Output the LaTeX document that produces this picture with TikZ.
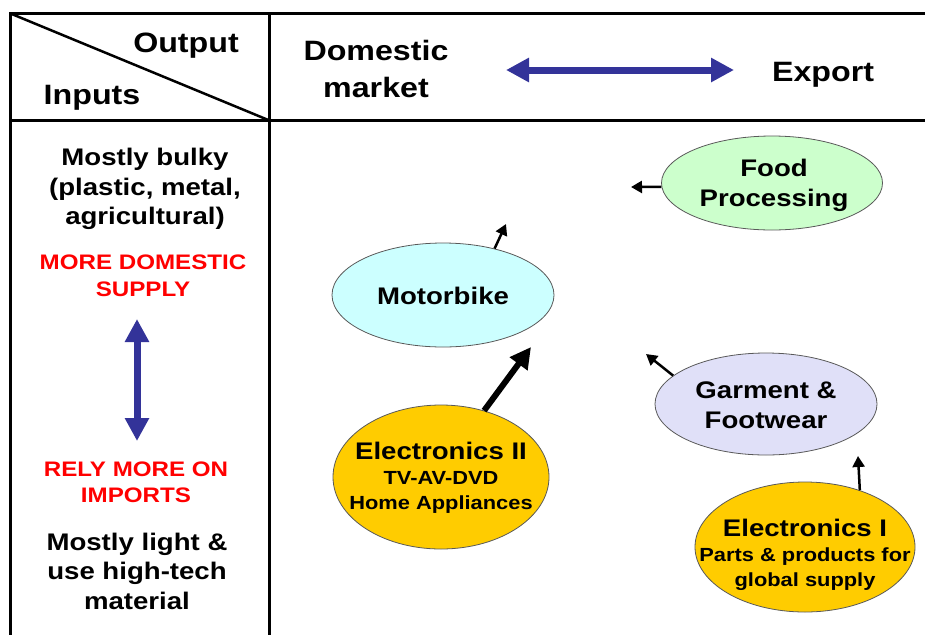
\documentclass[tikz,border=0pt]{standalone}
\usepackage{fontspec}
\setmainfont[FakeStretch=1.15]{Liberation Sans}
\usetikzlibrary{shapes.geometric,arrows.meta}
\definecolor{arrowblue}{HTML}{333399}
\definecolor{motorfill}{HTML}{CCFFFF}
\definecolor{foodfill}{HTML}{CCFFCC}
\definecolor{garmfill}{HTML}{E0E0F8}
\definecolor{elecfill}{HTML}{FFCC00}
\definecolor{redtext}{HTML}{FF0000}
\newcommand\subtxtfont{\fontsize{19}{24}\selectfont}
\tikzset{
  frame/.style={line width=3pt},
  head/.style={font=\bfseries\fontsize{28}{37}\selectfont, align=center, inner sep=0pt},
  body/.style={font=\bfseries\fontsize{24}{29.5}\selectfont, align=center, inner sep=0pt},
  redlbl/.style={font=\bfseries\fontsize{21}{26.5}\selectfont, text=redtext, align=center, inner sep=0pt},
  oval/.style={ellipse, draw=black!65, line width=0.8pt, inner sep=0pt},
  ovaltxt/.style={font=\bfseries\fontsize{24}{30}\selectfont, align=center, inner sep=0pt},
  bluearrow/.style={line width=7pt, arrowblue, {Triangle[length=23pt,width=23pt]}-{Triangle[length=23pt,width=23pt]}},
  smallarrow/.style={line width=2.5pt, -{Triangle[length=11pt,width=12pt]}},
  bigarrow/.style={line width=6pt, -{Triangle[length=21pt,width=21pt]}}
}
\begin{document}
\begin{tikzpicture}[x=1pt,y=-1pt]
\useasboundingbox (0,0) rectangle (925,635);
% table frame
\coordinate (tl) at (10.5,13.5);
\coordinate (tr) at (925,13.5);
\coordinate (bl) at (10.5,635);
\coordinate (mt) at (269.5,13.5);
\coordinate (mb) at (269.5,635);
\coordinate (hl) at (10.5,120.5);
\coordinate (hr) at (925,120.5);
\coordinate (hm) at (269.5,120.5);
\draw[frame] (tr) -- (tl) -- (bl);
\draw[frame] (mt) -- (mb);
\draw[frame] (hl) -- (hr);
\draw[line width=2.5pt] (tl) -- (hm);
% header texts
\node[head] (output) at (186,46) {Output};
\node[head] (inputs) at (92,98) {Inputs};
\node[head] (domestic) at (376,69) {Domestic\\market};
\node[head] (export) at (823,75) {Export};
\coordinate (ha) at (506,70);
\coordinate (hb) at (734,70);
\draw[bluearrow] (ha) -- (hb);
% left column
\node[body] (bulky) at (145,189) {Mostly bulky\\(plastic, metal,\\agricultural)};
\node[redlbl] (moredom) at (143,276) {MORE DOMESTIC\\SUPPLY};
\coordinate (va) at (137,319);
\coordinate (vb) at (137,441);
\draw[bluearrow] (va) -- (vb);
\node[redlbl] (relymore) at (136,482.5) {RELY MORE ON\\IMPORTS};
\node[body] (light) at (137,571) {Mostly light \&\\use high-tech\\material};
% ellipses
\node[oval, fill=motorfill, minimum width=222pt, minimum height=104pt] (motor) at (443,295) {};
\node[ovaltxt] (motortxt) at (443,296) {Motorbike};
\node[oval, fill=foodfill, minimum width=221pt, minimum height=94pt] (food) at (772,183) {};
\node[ovaltxt] (foodtxt) at (774,185) {Food\\Processing};
\node[oval, fill=garmfill, minimum width=222pt, minimum height=102pt] (garm) at (766,404) {};
\node[ovaltxt] (garmtxt) at (766,405) {Garment \&\\Footwear};
\node[oval, fill=elecfill, minimum width=220pt, minimum height=130pt] (eone) at (805,547) {};
\node[ovaltxt, font=\bfseries\fontsize{24}{25}\selectfont] (eonetxt) at (805,555) {Electronics I\\{\subtxtfont Parts \& products for}\\{\subtxtfont global supply}};
\node[oval, fill=elecfill, minimum width=216pt, minimum height=144pt] (etwo) at (441,477) {};
\node[ovaltxt, font=\bfseries\fontsize{24}{25}\selectfont] (etwotxt) at (441,478) {Electronics II\\{\subtxtfont TV-AV-DVD}\\{\subtxtfont Home Appliances}};
% arrows
\coordinate (motorto) at (506,224);
\draw[smallarrow] (motor.42) -- (motorto);
\coordinate (etwoto) at (531,347);
\draw[bigarrow] (etwo.57) -- (etwoto);
\coordinate (foodto) at (631,187);
\draw[smallarrow] (food.182) -- (foodto);
\coordinate (garmto) at (646,354);
\draw[smallarrow] (garm.163) -- (garmto);
\coordinate (eoneto) at (858,456);
\draw[smallarrow] (eone.46) -- (eoneto);
\end{tikzpicture}
\end{document}
